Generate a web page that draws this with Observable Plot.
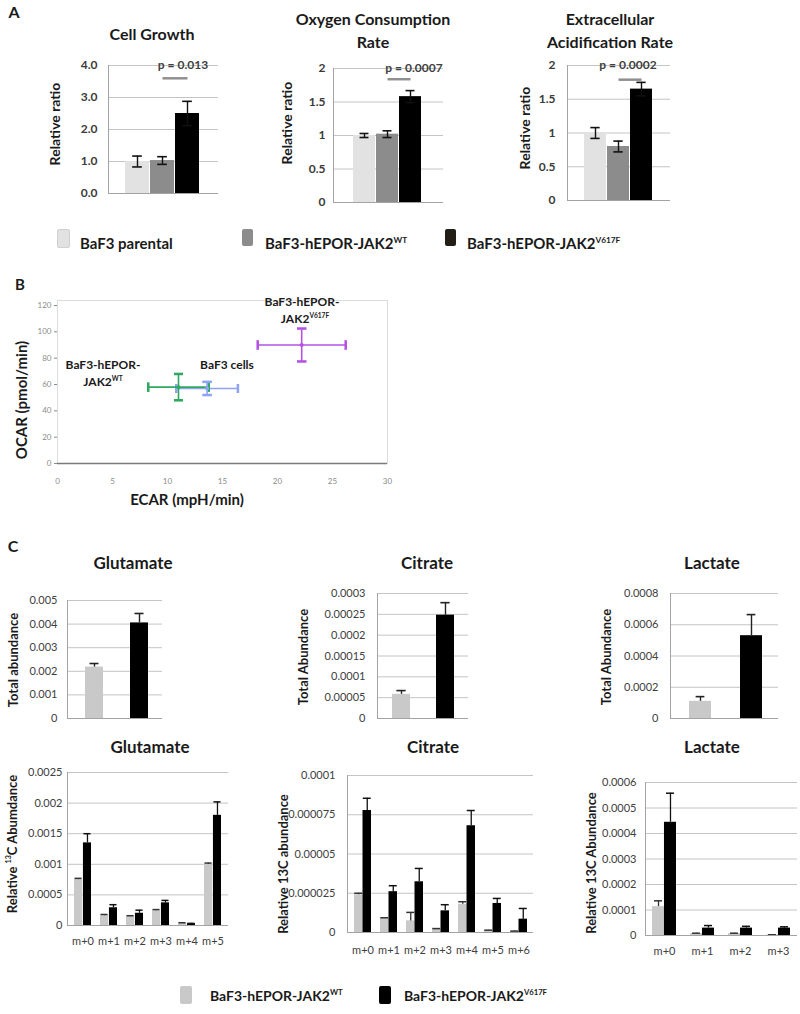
<!DOCTYPE html>
<html><head><meta charset="utf-8">
<script src="https://cdn.jsdelivr.net/npm/d3@7"></script>
<script src="https://cdn.jsdelivr.net/npm/@observablehq/plot@0.6"></script>
<style>
body{margin:0;background:#fff;}
#fig{position:relative;width:800px;height:1014px;font-family:Lato,"Open Sans",sans-serif;color:#1a1a1a;overflow:hidden;background:#fff;}
.t{position:absolute;white-space:nowrap;text-align:center;}
sup{font-size:0.55em;vertical-align:0.75em;line-height:0;}
.sw{position:absolute;border-radius:2px;}
#fig svg{position:absolute;}
</style></head><body><div id="fig"></div><script>
// ---------- Panel A data ----------
const groupsA = ["BaF3 parental", "BaF3-hEPOR-JAK2 WT", "BaF3-hEPOR-JAK2 V617F"];
const colorsA = ["#e2e2e2", "#8c8c8c", "#000000"];
const growth = [1.0, 1.03, 2.5];
const growthErr = [0.17, 0.12, 0.38];
const ocr = [1.0, 1.02, 1.58];
const ocrErr = [0.03, 0.05, 0.09];
const ecarA = [1.0, 0.8, 1.65];
const ecarAErr = [0.08, 0.08, 0.1];
const pValues = ["p = 0.013", "p = 0.0007", "p = 0.0002"];
const sigLevel = [3.6, 1.84, 1.79];
const ticksGrowth = [0, 1, 2, 3, 4];
const ticksRate = [0, 0.5, 1, 1.5, 2];

// ---------- Panel B data ----------
const cellsB = ["BaF3 cells", "BaF3-hEPOR-JAK2 WT", "BaF3-hEPOR-JAK2 V617F"];
const ecarB = [13.6, 11.0, 22.2];
const ecarBErr = [2.8, 2.75, 4.0];
const ocarB = [57, 58, 90];
const ocarBErr = [5, 10, 12.5];
const colorsB = ["#8ea4f2", "#2fa860", "#b452e2"];
const ticksBx = [0, 5, 10, 15, 20, 25, 30];
const ticksBy = [0, 20, 40, 60, 80, 100, 120];

// ---------- Panel C data ----------
const seriesC = ["BaF3-hEPOR-JAK2 WT", "BaF3-hEPOR-JAK2 V617F"];
const colorsC = ["#c9c9c9", "#000000"];
const totGlu = [0.00218, 0.00405], totGluErr = [0.00015, 0.0004];
const totCit = [0.000058, 0.000248], totCitErr = [0.000009, 0.00003];
const totLac = [0.00011, 0.00053], totLacErr = [0.00003, 0.000135];
const ticksTotGlu = [0, 0.001, 0.002, 0.003, 0.004, 0.005];
const ticksTotCit = [0, 0.00005, 0.0001, 0.00015, 0.0002, 0.00025, 0.0003];
const ticksTotLac = [0, 0.0002, 0.0004, 0.0006, 0.0008];

const isoGlu = ["m+0", "m+1", "m+2", "m+3", "m+4", "m+5"];
const gluWT = [0.00075, 0.00016, 0.00015, 0.00024, 0.00004, 0.00100];
const gluWTErr = [0.00002, 0.00002, 0.00001, 0.00002, 0.000005, 0.00002];
const gluV = [0.00135, 0.00029, 0.0002, 0.00037, 0.00003, 0.0018];
const gluVErr = [0.00015, 0.00005, 0.00005, 0.00004, 0.000005, 0.00022];
const ticksIsoGlu = [0, 0.0005, 0.001, 0.0015, 0.002, 0.0025];

const isoCit = ["m+0", "m+1", "m+2", "m+3", "m+4", "m+5", "m+6"];
const citWT = [0.000024, 0.0000089, 0.0000074, 0.000002, 0.000018, 0.0000012, 0.0000007];
const citWTErr = [0.000001, 0.0000005, 0.0000054, 0.0000005, 0.0000016, 0.0000003, 0.0000002];
const citV = [0.0000777, 0.000026, 0.0000323, 0.0000138, 0.000068, 0.0000185, 0.0000085];
const citVErr = [0.0000078, 0.0000038, 0.0000085, 0.0000039, 0.0000097, 0.0000032, 0.0000068];
const ticksIsoCit = [0, 0.000025, 0.00005, 0.000075, 0.0001];

const isoLac = ["m+0", "m+1", "m+2", "m+3"];
const lacWT = [0.000113, 0.000007, 0.000007, 0.000002];
const lacWTErr = [0.000023, 0.000002, 0.000002, 0.000001];
const lacV = [0.000444, 0.000029, 0.000029, 0.000029];
const lacVErr = [0.000114, 0.00001, 0.000007, 0.000005];
const ticksIsoLac = [0, 0.0001, 0.0002, 0.0003, 0.0004, 0.0005, 0.0006];

// ---------- helpers ----------
const fig = document.getElementById("fig");
const FONT = "Lato, 'Open Sans', sans-serif";
function place(svg, left, top) {
  svg.style.left = left + "px";
  svg.style.top = top + "px";
  fig.appendChild(svg);
}
function label(html, x, y, o = {}) {
  const d = document.createElement("div");
  d.className = "t";
  d.innerHTML = html;
  d.style.left = x + "px";
  d.style.top = y + "px";
  d.style.fontSize = (o.size || 14) + "px";
  d.style.fontWeight = o.weight || "bold";
  d.style.color = o.color || "#1a1a1a";
  d.style.lineHeight = (o.lh || 1.15);
  d.style.transform = o.rotate ? "translate(-50%,-50%) rotate(-90deg)"
    : o.anchor === "start" ? "translate(0,-50%)" : "translate(-50%,-50%)";
  if (o.anchor === "start") d.style.textAlign = "left";
  fig.appendChild(d);
}
function swatch(x, y, w, h, color, border) {
  const d = document.createElement("div");
  d.className = "sw";
  Object.assign(d.style, {left: x + "px", top: y + "px", width: w + "px", height: h + "px", background: color});
  if (border) d.style.border = "1px solid " + border;
  fig.appendChild(d);
}
const gridColor = "#c4c4c4", axisColor = "#a3a3a3";

// ---------- Panel A ----------
function chartA({x0, x1, y0, y1, b0, b1, values, errs, max, ticks, fmt, sig, ytp}) {
  const ML = 45, MR = 6, MT = 6, MB = 6;
  const data = groupsA.map((g, i) => ({g, v: values[i], e: errs[i]}));
  const pad = 0.04;
  const bw = (b1 - b0) / (3 - pad) * (1 - pad);
  const cap = 10;
  const svg = Plot.plot({
    width: x1 - x0 + ML + MR, height: y1 - y0 + MT + MB,
    marginLeft: ML, marginRight: MR, marginTop: MT, marginBottom: MB,
    style: {background: "transparent", overflow: "visible", fontFamily: FONT, fontSize: "12px", fontWeight: "bold", color: "#3a3a3a"},
    x: {domain: groupsA, range: [ML + b0 - x0, ML + b1 - x0], paddingInner: pad, paddingOuter: 0, axis: null},
    y: {domain: [0, max]},
    color: {domain: groupsA, range: colorsA},
    marks: [
      Plot.ruleY(ticks.filter(t => t > 0), {stroke: gridColor}),
      Plot.barY(data, {x: "g", y: "v", fill: "g"}),
      Plot.ruleX(data, {x: "g", y1: d => d.v - d.e, y2: d => d.v + d.e, stroke: "#111", strokeWidth: 1.4}),
      Plot.tickY(data, {x: "g", y: d => d.v + d.e, insetLeft: (bw - cap) / 2, insetRight: (bw - cap) / 2, stroke: "#111", strokeWidth: 1.6}),
      Plot.tickY(data, {x: "g", y: d => d.v - d.e, insetLeft: (bw - cap) / 2, insetRight: (bw - cap) / 2, stroke: "#111", strokeWidth: 1.6}),
      Plot.ruleY([0], {stroke: axisColor}),
      Plot.frame({anchor: "left", stroke: axisColor}),
      Plot.axisY({ticks, tickFormat: fmt, tickSize: 0, tickPadding: ytp, label: null}),
      Plot.link([{a: groupsA[1], b: groupsA[2], y: sig}], {x1: "a", x2: "b", y1: "y", y2: "y", stroke: "#8f8f8f", strokeWidth: 2.5})
    ]
  });
  place(svg, x0 - ML, y0 - MT);
}
chartA({x0: 108, x1: 218, y0: 65, y1: 193, b0: 124, b1: 199, values: growth, errs: growthErr, max: 4, ticks: ticksGrowth, fmt: d => d.toFixed(1), sig: sigLevel[0], ytp: 11});
chartA({x0: 333, x1: 443, y0: 68, y1: 202, b0: 352, b1: 423, values: ocr, errs: ocrErr, max: 2, ticks: ticksRate, fmt: d => String(d), sig: sigLevel[1], ytp: 8});
chartA({x0: 567, x1: 670, y0: 65, y1: 200, b0: 583, b1: 653, values: ecarA, errs: ecarAErr, max: 2, ticks: ticksRate, fmt: d => String(d), sig: sigLevel[2], ytp: 12});

label("A", 14, 12, {size: 16});
label("Cell Growth", 152, 34, {size: 16});
label("Oxygen Consumption<br>Rate", 373, 30, {size: 16, lh: "23px"});
label("Extracellular<br>Acidification Rate", 610, 30, {size: 16, lh: "23px"});
label("Relative ratio", 55, 124, {size: 14, rotate: true});
label("Relative ratio", 287, 123, {size: 14, rotate: true});
label("Relative ratio", 525, 128, {size: 14, rotate: true});
label(pValues[0], 183, 65, {size: 12, color: "#404040"});
label(pValues[1], 414, 68, {size: 12, color: "#404040"});
label(pValues[2], 628, 65, {size: 12, color: "#404040"});

// legend A
swatch(57, 229, 11, 17, colorsA[0], "#d0d0d0");
swatch(242, 229, 11, 17, colorsA[1]);
swatch(445, 229, 11, 17, "#231f16");
label("BaF3 parental", 80, 244, {size: 15, anchor: "start"});
label("BaF3-hEPOR-JAK2<sup>WT</sup>", 265, 244, {size: 15, anchor: "start"});
label("BaF3-hEPOR-JAK2<sup>V617F</sup>", 467, 244, {size: 15, anchor: "start"});

// ---------- Panel B ----------
(function () {
  const x0 = 57, x1 = 387, y0 = 305, y1 = 463;
  const ML = 35, MR = 10, MT = 10, MB = 30;
  const dataB = cellsB.map((c, i) => ({c, x: ecarB[i], xe: ecarBErr[i], y: ocarB[i], ye: ocarBErr[i]}));
  const svg = Plot.plot({
    width: x1 - x0 + ML + MR, height: y1 - y0 + MT + MB,
    marginLeft: ML, marginRight: MR, marginTop: MT, marginBottom: MB,
    style: {background: "transparent", overflow: "visible", fontFamily: FONT, fontSize: "8px", color: "#8a8a8a"},
    x: {domain: [0, 30]},
    y: {domain: [0, 120]},
    color: {domain: cellsB, range: colorsB},
    marks: [
      Plot.frame({stroke: "#dcdcdc", insetTop: -5}),
      Plot.ruleY([0], {stroke: "#7a7a7a", strokeWidth: 1.5}),
      Plot.axisX({ticks: ticksBx, tickSize: 0, tickPadding: 15, label: null}),
      Plot.axisY({ticks: ticksBy, tickSize: 3, tickPadding: 3, label: null}),
      Plot.link(dataB, {x1: d => d.x - d.xe, x2: d => d.x + d.xe, y1: "y", y2: "y", stroke: "c", strokeWidth: 1.6, markerStart: "tick", markerEnd: "tick"}),
      Plot.link(dataB, {x1: "x", x2: "x", y1: d => d.y - d.ye, y2: d => d.y + d.ye, stroke: "c", strokeWidth: 1.6, markerStart: "tick", markerEnd: "tick"}),
      Plot.dot(dataB, {x: "x", y: "y", fill: "c", r: 2})
    ]
  });
  place(svg, x0 - ML, y0 - MT);
})();
label("B", 20, 285, {size: 15});
label("OCAR (pmol/min)", 22, 400, {size: 15, rotate: true});
label("ECAR (mpH/min)", 187, 500, {size: 15});
label("BaF3-hEPOR-", 302, 302, {size: 12});
label("JAK2<sup>V617F</sup>", 305, 319, {size: 12});
label("BaF3-hEPOR-", 103, 365, {size: 12});
label("JAK2<sup>WT</sup>", 103, 382, {size: 12});
label("BaF3 cells", 227, 365, {size: 12});

// ---------- Panel C (totals) ----------
function totChart({x0, x1, y0, y1, b0, b1, pad, values, errs, max, ticks, ytp}) {
  const ML = 66, MR = 6, MT = 6, MB = 6;
  const data = seriesC.map((s, i) => ({s, v: values[i], e: errs[i]}));
  const bw = (b1 - b0) / (2 - pad) * (1 - pad);
  const cap = 9;
  const svg = Plot.plot({
    width: x1 - x0 + ML + MR, height: y1 - y0 + MT + MB,
    marginLeft: ML, marginRight: MR, marginTop: MT, marginBottom: MB,
    style: {background: "transparent", overflow: "visible", fontFamily: FONT, fontSize: "11px", color: "#404040"},
    x: {domain: seriesC, range: [ML + b0 - x0, ML + b1 - x0], paddingInner: pad, paddingOuter: 0, axis: null},
    y: {domain: [0, max]},
    color: {domain: seriesC, range: colorsC},
    marks: [
      Plot.ruleY(ticks.filter(t => t > 0), {stroke: gridColor}),
      Plot.barY(data, {x: "s", y: "v", fill: "s"}),
      Plot.ruleX(data, {x: "s", y1: "v", y2: d => d.v + d.e, stroke: "#222", strokeWidth: 1.4}),
      Plot.tickY(data, {x: "s", y: d => d.v + d.e, insetLeft: (bw - cap) / 2, insetRight: (bw - cap) / 2, stroke: "#222", strokeWidth: 1.6}),
      Plot.ruleY([0], {stroke: axisColor}),
      Plot.frame({anchor: "left", stroke: axisColor}),
      Plot.axisY({ticks, tickFormat: d => String(d), tickSize: 0, tickPadding: ytp, label: null})
    ]
  });
  place(svg, x0 - ML, y0 - MT);
}
totChart({x0: 67, x1: 162, y0: 600, y1: 718, b0: 85, b1: 148, pad: 0.6, values: totGlu, errs: totGluErr, max: 0.005, ticks: ticksTotGlu, ytp: 10});
totChart({x0: 377, x1: 468, y0: 593, y1: 718, b0: 392, b1: 454, pad: 0.6, values: totCit, errs: totCitErr, max: 0.0003, ticks: ticksTotCit, ytp: 12});
totChart({x0: 670, x1: 778, y0: 593, y1: 718, b0: 688, b1: 762, pad: 0.57, values: totLac, errs: totLacErr, max: 0.0008, ticks: ticksTotLac, ytp: 12});

// ---------- Panel C (isotopologues) ----------
function isoChart({x0, x1, y0, y1, cats, wt, wtE, v, vE, max, ticks, pad, ytp, xtp}) {
  const ML = 66, MR = 4, MT = 6, MB = 30;
  const W = x1 - x0, n = cats.length;
  const bw = W / n * (1 - pad);
  const cap = Math.min(8, bw / 2);
  const data = cats.map((c, i) => ({c, a: wt[i], ae: wtE[i], b: v[i], be: vE[i]}));
  const svg = Plot.plot({
    width: W + ML + MR, height: y1 - y0 + MT + MB,
    marginLeft: ML, marginRight: MR, marginTop: MT, marginBottom: MB,
    style: {background: "transparent", overflow: "visible", fontFamily: FONT, fontSize: "11px", color: "#404040"},
    x: {domain: cats, paddingInner: pad, paddingOuter: pad / 2},
    y: {domain: [0, max]},
    marks: [
      Plot.ruleY(ticks.filter(t => t > 0), {stroke: gridColor}),
      Plot.barY(data, {x: "c", y: "a", fill: colorsC[0], insetRight: bw / 2}),
      Plot.barY(data, {x: "c", y: "b", fill: colorsC[1], insetLeft: bw / 2}),
      Plot.ruleX(data, {x: "c", y1: "a", y2: d => d.a + d.ae, dx: -bw / 4, stroke: "#333", strokeWidth: 1.3}),
      Plot.tickY(data, {x: "c", y: d => d.a + d.ae, insetLeft: bw / 4 - cap / 2, insetRight: 3 * bw / 4 - cap / 2, stroke: "#333", strokeWidth: 1.5}),
      Plot.ruleX(data, {x: "c", y1: "b", y2: d => d.b + d.be, dx: bw / 4, stroke: "#111", strokeWidth: 1.3}),
      Plot.tickY(data, {x: "c", y: d => d.b + d.be, insetLeft: 3 * bw / 4 - cap / 2, insetRight: bw / 4 - cap / 2, stroke: "#111", strokeWidth: 1.5}),
      Plot.ruleY([0], {stroke: axisColor}),
      Plot.frame({anchor: "left", stroke: axisColor}),
      Plot.axisY({ticks, tickFormat: d => String(d), tickSize: 0, tickPadding: ytp, label: null}),
      Plot.axisX({tickSize: 0, tickPadding: xtp, label: null})
    ]
  });
  place(svg, x0 - ML, y0 - MT);
}
isoChart({x0: 67, x1: 228, y0: 772, y1: 925, cats: isoGlu, wt: gluWT, wtE: gluWTErr, v: gluV, vE: gluVErr, max: 0.0025, ticks: ticksIsoGlu, pad: 1 / 3, ytp: 5, xtp: 12});
isoChart({x0: 347, x1: 533, y0: 775, y1: 932, cats: isoCit, wt: citWT, wtE: citWTErr, v: citV, vE: citVErr, max: 0.0001, ticks: ticksIsoCit, pad: 0.36, ytp: 12, xtp: 14});
isoChart({x0: 645, x1: 797, y0: 782, y1: 935, cats: isoLac, wt: lacWT, wtE: lacWTErr, v: lacV, vE: lacVErr, max: 0.0006, ticks: ticksIsoLac, pad: 0.37, ytp: 9, xtp: 12});

label("C", 13, 546, {size: 16});
label("Glutamate", 133, 563, {size: 17});
label("Citrate", 427, 563, {size: 17});
label("Lactate", 712, 563, {size: 17});
label("Glutamate", 150, 747, {size: 17});
label("Citrate", 433, 747, {size: 17});
label("Lactate", 712, 747, {size: 17});
label("Total abundance", 13, 660, {size: 13, rotate: true});
label("Total Abundance", 303, 657, {size: 13, rotate: true});
label("Total Abundance", 606, 657, {size: 13, rotate: true});
label("Relative <sup>13</sup>C Abumdance", 12, 844, {size: 13, rotate: true});
label("Relative 13C abundance", 283, 864, {size: 13, rotate: true});
label("Relative 13C Abundance", 591, 863, {size: 13, rotate: true});

// legend C
swatch(180, 986, 12, 18, colorsC[0]);
swatch(379, 986, 12, 18, colorsC[1]);
label("BaF3-hEPOR-JAK2<sup>WT</sup>", 210, 996, {size: 14, anchor: "start"});
label("BaF3-hEPOR-JAK2<sup>V617F</sup>", 404, 996, {size: 14, anchor: "start"});
</script></body></html>
